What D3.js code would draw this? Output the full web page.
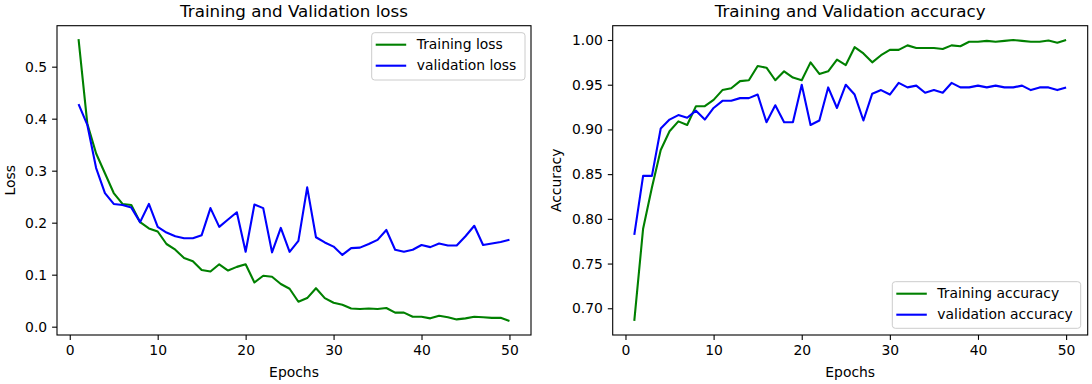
<!DOCTYPE html>
<html>
<head>
<meta charset="utf-8">
<script src="https://cdn.jsdelivr.net/npm/d3@7"></script>
<style>
  body { margin: 0; background: #fff; }
  svg { display: block; font-family: "DejaVu Sans", sans-serif; }
</style>
</head>
<body>
<svg id="chart" width="1092" height="384"></svg>
<script>
// values, epochs 1..50
const epochs = d3.range(1, 51);

const trainLoss = [0.553, 0.390, 0.333, 0.295, 0.257, 0.236, 0.234, 0.201, 0.189, 0.183,
  0.159, 0.148, 0.132, 0.126, 0.109, 0.106, 0.120, 0.108, 0.115, 0.120,
  0.085, 0.098, 0.096, 0.082, 0.073, 0.048, 0.055, 0.074, 0.055, 0.046,
  0.042, 0.035, 0.034, 0.035, 0.034, 0.036, 0.027, 0.027, 0.019, 0.019,
  0.016, 0.021, 0.018, 0.014, 0.016, 0.019, 0.018, 0.017, 0.017, 0.011];

const valLoss = [0.428, 0.388, 0.305, 0.257, 0.236, 0.234, 0.229, 0.201, 0.236, 0.192,
  0.181, 0.174, 0.170, 0.170, 0.176, 0.228, 0.192, 0.206, 0.220, 0.144,
  0.235, 0.228, 0.143, 0.190, 0.144, 0.165, 0.268, 0.172, 0.162, 0.154,
  0.138, 0.151, 0.152, 0.159, 0.167, 0.186, 0.148, 0.144, 0.148, 0.157,
  0.153, 0.160, 0.156, 0.156, 0.174, 0.194, 0.157, 0.160, 0.163, 0.167];

const trainAcc = [0.686, 0.789, 0.835, 0.877, 0.898, 0.909, 0.905, 0.926, 0.926, 0.933,
  0.944, 0.946, 0.954, 0.955, 0.971, 0.969, 0.955, 0.965, 0.958, 0.955,
  0.975, 0.962, 0.965, 0.978, 0.972, 0.992, 0.985, 0.975, 0.983, 0.989,
  0.989, 0.994, 0.991, 0.991, 0.991, 0.990, 0.994, 0.993, 0.998, 0.998,
  0.999, 0.998, 0.999, 1.000, 0.999, 0.998, 0.998, 0.9995, 0.997, 1.000];

const valAcc = [0.782, 0.848, 0.848, 0.901, 0.911, 0.916, 0.913, 0.921, 0.911, 0.924,
  0.932, 0.932, 0.935, 0.935, 0.939, 0.908, 0.927, 0.908, 0.908, 0.950,
  0.905, 0.910, 0.947, 0.924, 0.950, 0.939, 0.910, 0.940, 0.944, 0.939,
  0.952, 0.947, 0.949, 0.941, 0.944, 0.941, 0.952, 0.947, 0.947, 0.949,
  0.947, 0.949, 0.947, 0.947, 0.949, 0.944, 0.947, 0.947, 0.944, 0.947];

const xTicks = [0, 10, 20, 30, 40, 50];
const lossTicks = [0.0, 0.1, 0.2, 0.3, 0.4, 0.5];
const accTicks = [0.70, 0.75, 0.80, 0.85, 0.90, 0.95, 1.00];

const svg = d3.select("#chart");
const tickLen = 4.9;
const fontSize = 13.9;

const drawPanel = (opt) => {
    const g = svg.append("g");
    const x = d3.scaleLinear().domain([-1.45, 52.45]).range([opt.left, opt.right]);
    const y = d3.scaleLinear().domain(opt.yDomain).range([opt.bottom, opt.top]);

    // x axis
    const xAxis = d3.axisBottom(x).tickValues(xTicks).tickSize(tickLen).tickPadding(4.9);
    const gx = g.append("g").attr("transform", "translate(0," + opt.bottom + ")").call(xAxis);
    // y axis
    const yAxis = d3.axisLeft(y).tickValues(opt.yTicks).tickFormat(d3.format(opt.fmt))
        .tickSize(tickLen).tickPadding(4.9);
    const gy = g.append("g").attr("transform", "translate(" + opt.left + ",0)").call(yAxis);

    [gx, gy].forEach((a) => {
        a.select(".domain").remove();
        a.selectAll("text").attr("font-size", fontSize).attr("fill", "#000")
            .attr("font-family", "DejaVu Sans");
        a.selectAll("line").attr("stroke", "#000").attr("stroke-width", 1.1);
    });

    const line = (vals) => d3.line().x((d, i) => x(epochs[i])).y((d) => y(d))(vals);

    const clipId = "clip" + opt.left;
    g.append("clipPath").attr("id", clipId).append("rect")
        .attr("x", opt.left).attr("y", opt.top)
        .attr("width", opt.right - opt.left).attr("height", opt.bottom - opt.top);

    const plot = g.append("g").attr("clip-path", "url(#" + clipId + ")");
    plot.append("path").attr("d", line(opt.train)).attr("fill", "none")
        .attr("stroke", "#008000").attr("stroke-width", 2.1).attr("stroke-linejoin", "round");
    plot.append("path").attr("d", line(opt.val)).attr("fill", "none")
        .attr("stroke", "#0000ff").attr("stroke-width", 2.1).attr("stroke-linejoin", "round");

    // axes frame
    g.append("rect").attr("x", opt.left).attr("y", opt.top)
        .attr("width", opt.right - opt.left).attr("height", opt.bottom - opt.top)
        .attr("fill", "none").attr("stroke", "#000").attr("stroke-width", 1.1);

    // title and labels
    g.append("text").attr("x", (opt.left + opt.right) / 2).attr("y", 17)
        .attr("text-anchor", "middle").attr("font-size", 16.7).text(opt.title);
    g.append("text").attr("x", (opt.left + opt.right) / 2).attr("y", 376.5)
        .attr("text-anchor", "middle").attr("font-size", fontSize).text("Epochs");
    g.append("text").attr("transform", "translate(" + opt.yLabelX + "," + (opt.top + opt.bottom) / 2 + ") rotate(-90)")
        .attr("text-anchor", "middle").attr("font-size", fontSize).text(opt.yLabel);

    // legend
    const lg = opt.legend;
    g.append("rect").attr("x", lg.x).attr("y", lg.y).attr("width", lg.w).attr("height", lg.h)
        .attr("rx", 3).attr("fill", "#fff").attr("fill-opacity", 0.8)
        .attr("stroke", "#cccccc").attr("stroke-width", 1);
    [[opt.names[0], "#008000"], [opt.names[1], "#0000ff"]].forEach((item, i) => {
        const ly = lg.y + 12 + i * 21;
        g.append("line").attr("x1", lg.x + 4).attr("x2", lg.x + 34.5)
            .attr("y1", ly).attr("y2", ly).attr("stroke", item[1]).attr("stroke-width", 2.1);
        g.append("text").attr("x", lg.x + 45).attr("y", ly + 4.6)
            .attr("font-size", fontSize).text(item[0]);
    });
};

drawPanel({
    left: 57, right: 531, top: 25.7, bottom: 335,
    yDomain: [-0.016, 0.5788], yTicks: lossTicks, fmt: ".1f",
    train: trainLoss, val: valLoss,
    title: "Training and Validation loss", yLabel: "Loss", yLabelX: 15,
    names: ["Training loss", "validation loss"],
    legend: { x: 371.7, y: 32.7, w: 153.3, h: 47.3 }
});

drawPanel({
    left: 612.7, right: 1087.7, top: 25.7, bottom: 335,
    yDomain: [0.6701, 1.016], yTicks: accTicks, fmt: ".2f",
    train: trainAcc, val: valAcc,
    title: "Training and Validation accuracy", yLabel: "Accuracy", yLabelX: 561,
    names: ["Training accuracy", "validation accuracy"],
    legend: { x: 892.3, y: 281.7, w: 188.4, h: 46.6 }
});
</script>
</body>
</html>
